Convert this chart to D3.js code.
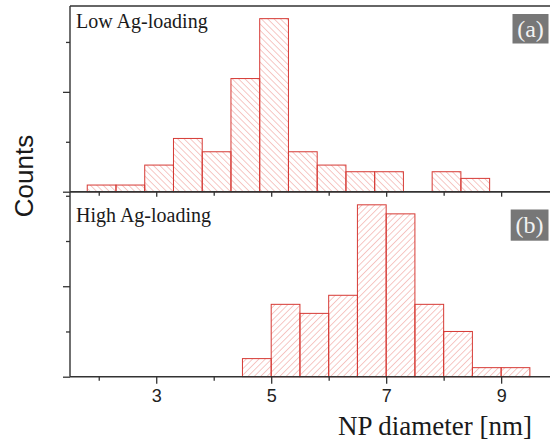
<!DOCTYPE html>
<html>
<head>
<meta charset="utf-8">
<script src="https://cdn.jsdelivr.net/npm/d3@7"></script>
<style>
  body { margin: 0; background: #ffffff; }
  svg { display: block; }
</style>
</head>
<body>
<svg></svg>
<script>
// Histogram data (bin left edges, bin width 0.5 nm)
const binWidth = 0.5;
const lowBins = [1.8, 2.3, 2.8, 3.3, 3.8, 4.3, 4.8, 5.3, 5.8, 6.3, 6.8, 7.3, 7.8, 8.3];
const lowCounts = [1, 1, 4, 8, 6, 17, 26, 6, 4, 3, 3, 0, 3, 2];
const highBins = [4.5, 5.0, 5.5, 6.0, 6.5, 7.0, 7.5, 8.0, 8.5, 9.0];
const highCounts = [2, 8, 7, 9, 19, 18, 8, 5, 1, 1];

// Tick values
const xMajor = [3, 5, 7, 9];
const xMinor = [2, 4, 6, 8];
const lowYMajor = [0, 15], lowYMinor = [7.5, 22.5];
const highYMajor = [0, 10], highYMinor = [5, 15, 20];

const width = 550, height = 441;
const left = 70, right = 551;
const axisColor = "#333";
const barStroke = "#d63a35";
const hatchColor = "#ec8580";

const svg = d3.select("svg")
    .attr("width", width)
    .attr("height", height);

// Hatch patterns: "\\" for panel (a), "//" for panel (b)
const defs = svg.append("defs");
function hatch(id, angle) {
    const p = defs.append("pattern")
        .attr("id", id)
        .attr("patternUnits", "userSpaceOnUse")
        .attr("width", 4.5)
        .attr("height", 4.5)
        .attr("patternTransform", `rotate(${angle})`);
    p.append("line")
        .attr("x1", 0).attr("y1", 0)
        .attr("x2", 0).attr("y2", 4.5)
        .attr("stroke", hatchColor)
        .attr("stroke-width", 0.9);
}
hatch("hatchA", -45);
hatch("hatchB", 45);

const x = d3.scaleLinear().domain([1.5, 9.85]).range([left, 550]);

// Panel definitions
const panels = [
    {
        bins: lowBins, counts: lowCounts, pattern: "hatchA",
        y: d3.scaleLinear().domain([0, 27.9]).range([191.7, 6]),
        yMajor: lowYMajor, yMinor: lowYMinor,
        title: "Low Ag-loading", titleY: 28, tag: "(a)",
        tagBox: [512.5, 14, 36, 29.5], xLabels: false, xMajorLen: 5
    },
    {
        bins: highBins, counts: highCounts, pattern: "hatchB",
        y: d3.scaleLinear().domain([0, 20.45]).range([376.7, 191.7]),
        yMajor: highYMajor, yMinor: highYMinor,
        title: "High Ag-loading", titleY: 222, tag: "(b)",
        tagBox: [510.7, 209.5, 37.8, 31.2], xLabels: true, xMajorLen: 7
    }
];

panels.forEach(p => {
    const g = svg.append("g");
    const y0 = p.y.range()[0], y1 = p.y.range()[1];
    const data = p.bins.map((b, i) => ({ x0: b, x1: b + binWidth, n: p.counts[i] }))
        .filter(d => d.n > 0);

    // Bars
    g.selectAll("rect.bar")
        .data(data)
        .enter()
        .append("rect")
        .attr("class", "bar")
        .attr("x", d => x(d.x0))
        .attr("width", d => x(d.x1) - x(d.x0))
        .attr("y", d => p.y(d.n))
        .attr("height", d => y0 - p.y(d.n))
        .attr("fill", `url(#${p.pattern})`)
        .attr("stroke", barStroke)
        .attr("stroke-width", 1);

    // Frame (top)
    g.append("line")
        .attr("x1", left).attr("x2", right)
        .attr("y1", y1).attr("y2", y1)
        .attr("stroke", axisColor).attr("stroke-width", 1.4);

    // Bottom axis: major and minor ticks
    const xAx = d3.axisBottom(x)
        .tickValues(xMajor)
        .tickSize(p.xMajorLen)
        .tickSizeOuter(0)
        .tickPadding(6)
        .tickFormat(p.xLabels ? d3.format("d") : "");
    const xg = g.append("g")
        .attr("transform", `translate(0,${y0})`)
        .call(xAx);
    xg.select(".domain").remove();
    xg.selectAll("text")
        .attr("font-family", "'Liberation Sans', Arial, sans-serif")
        .attr("font-size", 18)
        .attr("fill", "#222");
    const xm = g.append("g")
        .attr("transform", `translate(0,${y0})`)
        .call(d3.axisBottom(x).tickValues(xMinor).tickSize(4).tickFormat(""));
    xm.select(".domain").remove();

    g.append("line")
        .attr("x1", left).attr("x2", right)
        .attr("y1", y0).attr("y2", y0)
        .attr("stroke", axisColor).attr("stroke-width", 1.4);

    // Left axis ticks (no labels)
    const ym = g.append("g")
        .attr("transform", `translate(${left},0)`)
        .call(d3.axisLeft(p.y).tickValues(p.yMajor).tickSize(7).tickFormat(""));
    ym.select(".domain").remove();
    const yn = g.append("g")
        .attr("transform", `translate(${left},0)`)
        .call(d3.axisLeft(p.y).tickValues(p.yMinor).tickSize(4).tickFormat(""));
    yn.select(".domain").remove();
    g.selectAll(".tick line").attr("stroke", axisColor).attr("stroke-width", 1.3);

    g.append("line")
        .attr("x1", left).attr("x2", left)
        .attr("y1", y1).attr("y2", y0)
        .attr("stroke", axisColor).attr("stroke-width", 1.4);

    // Panel title
    g.append("text")
        .attr("x", 76)
        .attr("y", p.titleY)
        .attr("font-family", "'Liberation Serif', 'Times New Roman', serif")
        .attr("font-size", 20)
        .attr("fill", "#1a1a1a")
        .text(p.title);

    // Tag box
    const [bx, by, bw, bh] = p.tagBox;
    g.append("rect")
        .attr("x", bx).attr("y", by)
        .attr("width", bw).attr("height", bh)
        .attr("fill", "#777777");
    g.append("text")
        .attr("x", bx + bw / 2)
        .attr("y", by + bh / 2 + 8)
        .attr("text-anchor", "middle")
        .attr("font-family", "'Liberation Serif', 'Times New Roman', serif")
        .attr("font-size", 24)
        .attr("fill", "#f2f2f2")
        .text(p.tag);
});

// Axis labels
svg.append("text")
    .attr("x", 435)
    .attr("y", 435)
    .attr("text-anchor", "middle")
    .attr("font-family", "'Liberation Serif', 'Times New Roman', serif")
    .attr("font-size", 27)
    .attr("fill", "#1a1a1a")
    .text("NP diameter [nm]");

svg.append("text")
    .attr("transform", "rotate(-90)")
    .attr("x", -176)
    .attr("y", 33)
    .attr("text-anchor", "middle")
    .attr("font-family", "'Liberation Sans', Arial, sans-serif")
    .attr("font-size", 26)
    .attr("fill", "#1a1a1a")
    .text("Counts");
</script>
</body>
</html>
